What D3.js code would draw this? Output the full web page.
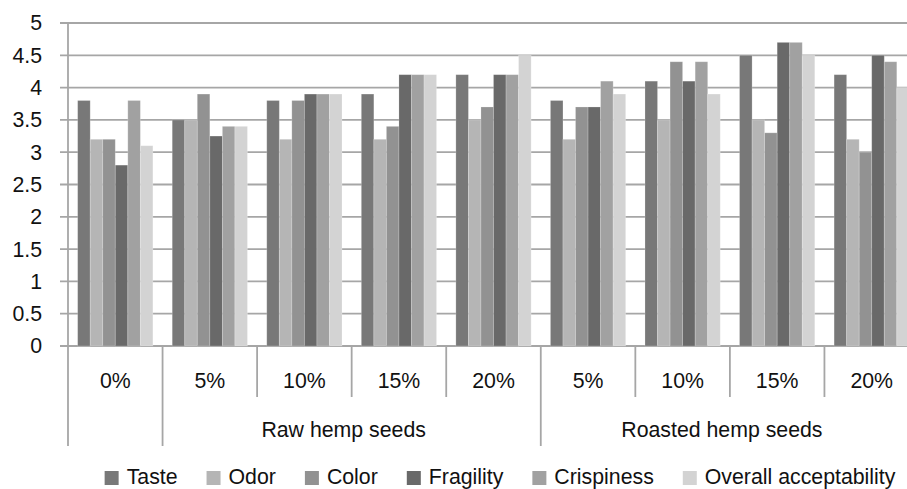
<!DOCTYPE html>
<html>
<head>
<meta charset="utf-8">
<script src="https://cdn.jsdelivr.net/npm/d3@7/dist/d3.min.js"></script>
<style>
  html, body { margin: 0; padding: 0; background: #fff; }
  svg { display: block; font-family: "Liberation Sans", Arial, sans-serif; }
</style>
</head>
<body>
<svg id="chart" width="907" height="489"></svg>
<script>
// Sensory scores of crackers by hemp seed level
const levels = ["0%", "5%", "10%", "15%", "20%", "5%", "10%", "15%", "20%"];
const groups = [
  { name: "", start: 0, end: 1 },
  { name: "Raw hemp seeds", start: 1, end: 5 },
  { name: "Roasted hemp seeds", start: 5, end: 9 }
];
const seriesNames = ["Taste", "Odor", "Color", "Fragility", "Crispiness", "Overall acceptability"];
const taste      = [3.8, 3.5, 3.8, 3.9, 4.2, 3.8, 4.1, 4.5, 4.2];
const odor       = [3.2, 3.5, 3.2, 3.2, 3.5, 3.2, 3.5, 3.5, 3.2];
const color      = [3.2, 3.9, 3.8, 3.4, 3.7, 3.7, 4.4, 3.3, 3.0];
const fragility  = [2.8, 3.25, 3.9, 4.2, 4.2, 3.7, 4.1, 4.7, 4.5];
const crispiness = [3.8, 3.4, 3.9, 4.2, 4.2, 4.1, 4.4, 4.7, 4.4];
const overall    = [3.1, 3.4, 3.9, 4.2, 4.5, 3.9, 3.9, 4.5, 4.0];
const yTicks = [0, 0.5, 1, 1.5, 2, 2.5, 3, 3.5, 4, 4.5, 5];
const fills = ["#787878", "#b5b5b5", "#929292", "#696969", "#a1a1a1", "#d3d3d3"];

const seriesValues = [taste, odor, color, fragility, crispiness, overall];

const svg = d3.select("#chart");
const plotLeft = 68, plotRight = 919, plotTop = 23, plotBottom = 346;
const gridColor = "#a6a6a6";
const textColor = "#111";
const fontSize = 21.3;

const x0 = d3.scaleBand().domain(d3.range(levels.length)).range([plotLeft, plotRight]).padding(0);
const x1 = d3.scaleBand().domain(d3.range(seriesNames.length))
  .range([0, x0.bandwidth()]).paddingInner(0).paddingOuter(0.77);
const y = d3.scaleLinear().domain([0, 5]).range([plotBottom, plotTop]);

// Horizontal gridlines with short ticks left of the axis
svg.append("g").selectAll("line").data(yTicks).join("line")
  .attr("x1", plotLeft - 8).attr("x2", plotRight)
  .attr("y1", d => y(d)).attr("y2", d => y(d))
  .attr("stroke", gridColor).attr("stroke-width", 1.8);

// Value axis labels
svg.append("g").selectAll("text").data(yTicks).join("text")
  .attr("x", 42).attr("y", d => y(d))
  .attr("text-anchor", "end").attr("dy", "0.35em")
  .attr("font-size", fontSize).attr("fill", textColor)
  .text(d => d3.format("")(d));

// Bars
const barG = svg.append("g");
seriesValues.forEach((vals, s) => {
  barG.append("g").selectAll("rect").data(vals).join("rect")
    .attr("x", (d, i) => x0(i) + x1(s))
    .attr("y", d => y(d))
    .attr("width", x1.bandwidth())
    .attr("height", d => y(0) - y(d))
    .attr("fill", fills[s])
    .attr("stroke", "#ffffff").attr("stroke-opacity", 0.25).attr("stroke-width", 0.8);
});

// Vertical value axis line
svg.append("line")
  .attr("x1", plotLeft).attr("x2", plotLeft).attr("y1", plotTop).attr("y2", plotBottom)
  .attr("stroke", gridColor).attr("stroke-width", 1.8);

// Category axis: inner ticks between levels, long ticks between groups
const groupEdges = new Set(groups.flatMap(g => [g.start, g.end]));
const edges = d3.range(levels.length + 1);
svg.append("g").selectAll("line").data(edges).join("line")
  .attr("x1", i => i < levels.length ? x0(i) : plotRight)
  .attr("x2", i => i < levels.length ? x0(i) : plotRight)
  .attr("y1", plotBottom)
  .attr("y2", i => groupEdges.has(i) ? 446 : 397)
  .attr("stroke", gridColor).attr("stroke-width", 1.8);

// Level labels
svg.append("g").selectAll("text").data(levels).join("text")
  .attr("x", (d, i) => x0(i) + x0.bandwidth() / 2)
  .attr("y", 381).attr("dy", "0.35em")
  .attr("text-anchor", "middle")
  .attr("font-size", fontSize).attr("fill", textColor)
  .text(d => d);

// Group labels
svg.append("g").selectAll("text").data(groups.filter(g => g.name)).join("text")
  .attr("x", g => (x0(g.start) + (g.end < levels.length ? x0(g.end) : plotRight)) / 2 - 8)
  .attr("y", 430).attr("dy", "0.35em")
  .attr("text-anchor", "middle")
  .attr("font-size", fontSize).attr("fill", textColor)
  .text(g => g.name);

// Legend
const legend = svg.append("g");
const items = legend.selectAll("g").data(seriesNames).join("g");
items.append("rect").attr("width", 14).attr("height", 14).attr("y", -6)
  .attr("fill", (d, i) => fills[i]);
items.append("text").attr("x", 22).attr("dy", "0.35em")
  .attr("font-size", fontSize).attr("fill", textColor)
  .text(d => d);
let cursor = 0;
const gap = 29;
items.each(function () {
  const w = d3.select(this).select("text").node().getComputedTextLength();
  d3.select(this).attr("transform", `translate(${cursor},0)`);
  cursor += 22 + w + gap;
});
const total = cursor - gap;
legend.attr("transform", `translate(${500 - total / 2},477)`);
</script>
</body>
</html>
